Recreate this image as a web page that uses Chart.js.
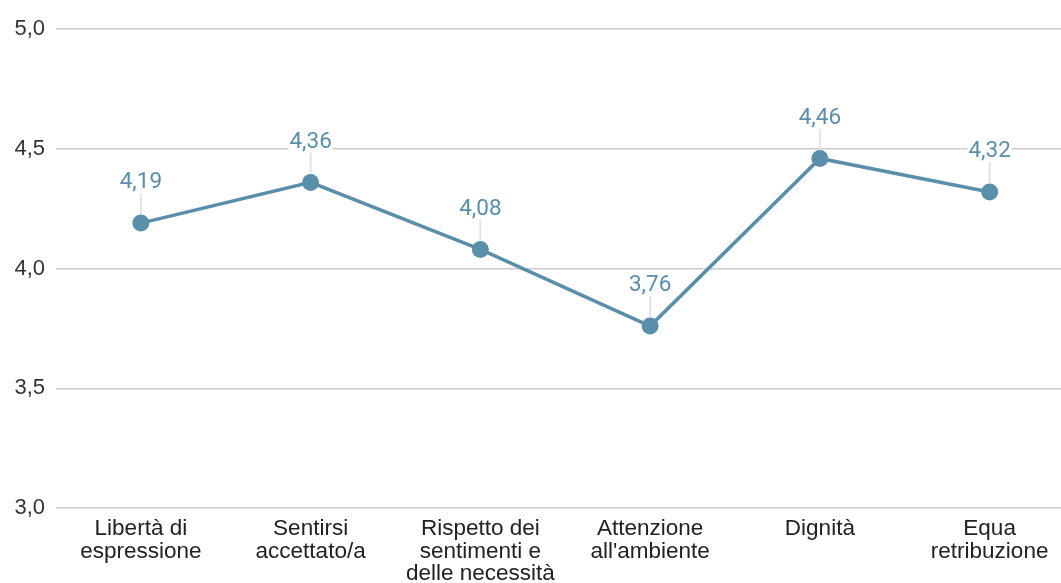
<!DOCTYPE html>
<html>
<head>
<meta charset="utf-8">
<script src="https://cdn.jsdelivr.net/npm/chart.js@4.4.0/dist/chart.umd.min.js"></script>
<style>
  html, body { margin: 0; padding: 0; background: #fff; overflow: hidden; }
  #wrap { position: relative; width: 1083px; height: 578px; margin-top: 5px; }
</style>
</head>
<body>
<div id="wrap"><canvas id="c"></canvas></div>
<script>
const categories = [
  ["Libertà di", "espressione"],
  ["Sentirsi", "accettato/a"],
  ["Rispetto dei", "sentimenti e", "delle necessità"],
  ["Attenzione", "all'ambiente"],
  ["Dignità"],
  ["Equa", "retribuzione"]
];
const values = [4.19, 4.36, 4.08, 3.76, 4.46, 4.32];
const yTicks = [3.0, 3.5, 4.0, 4.5, 5.0];

const LINE_COLOR = '#5a8fac';
const fmt = (v, d) => v.toFixed(d).replace('.', ',');

const labelPlugin = {
  id: 'valueLabels',
  afterDatasetsDraw(chart) {
    const ctx = chart.ctx;
    const meta = chart.getDatasetMeta(0);
    ctx.save();
    ctx.font = '22.5px Roboto';
    ctx.textAlign = 'center';
    ctx.textBaseline = 'middle';
    meta.data.forEach((pt, i) => {
      const txt = fmt(values[i], 2);
      const ty = pt.y - 41.5;
      ctx.strokeStyle = '#e4e4e4';
      ctx.lineWidth = 2;
      ctx.beginPath();
      ctx.moveTo(pt.x, pt.y - 30);
      ctx.lineTo(pt.x, pt.y - 9);
      ctx.stroke();
      const w = ctx.measureText(txt).width;
      ctx.fillStyle = '#ffffff';
      ctx.fillRect(pt.x - w / 2 - 1, ty - 9, w + 2, 18);
      ctx.fillStyle = LINE_COLOR;
      ctx.fillText(txt, pt.x, ty + 1);
    });
    ctx.restore();
  }
};

new Chart(document.getElementById('c'), {
  type: 'line',
  data: {
    labels: categories,
    datasets: [{
      data: values,
      borderColor: LINE_COLOR,
      backgroundColor: LINE_COLOR,
      borderWidth: 3.5,
      pointRadius: 8.5,
      pointHoverRadius: 8.5,
      pointBackgroundColor: LINE_COLOR,
      pointBorderWidth: 0,
      tension: 0,
      fill: false
    }]
  },
  options: {
    responsive: true,
    maintainAspectRatio: false,
    animation: false,
    layout: { padding: { top: 22, left: 0, right: 1, bottom: 0 } },
    plugins: {
      legend: { display: false },
      tooltip: { enabled: false }
    },
    scales: {
      x: {
        offset: true,
        grid: { display: false, drawTicks: false },
        border: { display: false },
        ticks: {
          color: '#222',
          font: { family: 'Liberation Sans', size: 22.5, lineHeight: 1.0 },
          padding: 10,
          maxRotation: 0,
          autoSkip: false
        },
        afterFit(scale) { scale.height = 75; }
      },
      y: {
        min: 3,
        max: 5,
        afterBuildTicks(scale) { scale.ticks = yTicks.map(v => ({ value: v })); },
        grid: { color: '#cccccc', lineWidth: 1.5, drawTicks: false },
        border: { display: false },
        ticks: {
          color: '#333',
          font: { family: 'Liberation Sans', size: 22 },
          padding: 11,
          callback: (v) => fmt(v, 1)
        },
        afterFit(scale) { scale.width = 56; }
      }
    }
  },
  plugins: [labelPlugin]
});
</script>
</body>
</html>
